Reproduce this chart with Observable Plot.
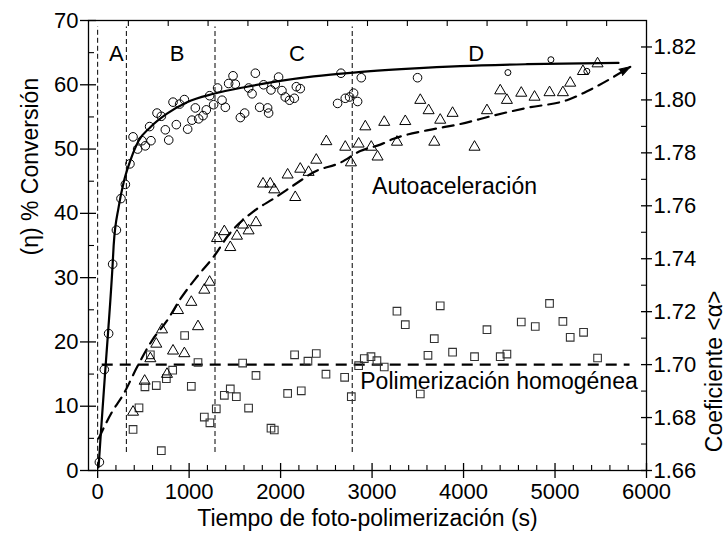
<!DOCTYPE html>
<html>
<head>
<meta charset="utf-8">
<script src="https://cdn.jsdelivr.net/npm/d3@7"></script>
<script src="https://cdn.jsdelivr.net/npm/@observablehq/plot@0.6"></script>
<style>
  html, body { margin: 0; padding: 0; background: #fff; }
  #chart { width: 726px; height: 541px; }
</style>
</head>
<body>
<div id="chart"></div>
<script>
// ---- Data ----
// Conversion (η, %) – open circles, left axis
const convTime = [19,73,120,164,205,255,303,353,387,437,485,521,568,583,649,696,740,777,824,860,896,948,984,1031,1068,1104,1152,1188,1224,1268,1311,1360,1396,1432,1480,1505,1560,1607,1651,1688,1724,1771,1814,1858,1869,1895,1942,1978,2015,2051,2098,2150,2172,2215,2623,2660,2707,2754,2798,2842,2882,3497];
const convValue = [1.3,15.7,21.3,32.1,37.4,42.3,44.5,47.7,51.9,50.0,51.3,50.5,53.5,51.3,55.6,55.1,53.0,51.4,57.3,53.8,57.0,57.7,53.1,54.5,56.4,54.7,55.2,56.1,58.3,56.9,59.5,57.6,56.5,60.2,61.4,60.1,54.9,55.6,59.5,58.6,61.8,56.5,60.0,56.4,55.6,59.2,60.1,61.2,59.1,58.1,57.6,57.9,59.7,59.4,57.1,61.8,57.9,58.1,58.7,57.4,61.1,61.1];
// late conversion points (drawn smaller)
const convLateTime = [4485, 4955, 5348];
const convLateValue = [61.9, 63.9, 62.1];

// Fitted conversion curve (solid)
const fitTime = [10,37,84,113,164,175,230,284,357,448,576,758,977,1268,1633,1997,2361,2798,3418,3964,4694,5694];
const fitValue = [0.5,6.2,15.7,21.3,32.1,35.0,41.0,44.8,48.2,51.3,53.4,55.5,57.3,58.6,59.7,60.6,61.3,61.9,62.5,62.9,63.2,63.4];

// Coefficient <α> – autoacceleration (triangles), right axis
const autoTime = [387,514,576,641,704,758,824,879,948,1024,1097,1166,1224,1305,1385,1450,1523,1589,1650,1731,1808,1887,1931,2077,2160,2215,2306,2390,2500,2707,2769,2853,2926,2991,3060,3133,3272,3363,3527,3618,3680,3745,3880,4120,4256,4401,4474,4631,4776,4940,5086,5166,5305,5465];
const autoAlpha = [1.6821,1.6938,1.7023,1.7078,1.7132,1.6964,1.7052,1.7205,1.7042,1.7236,1.7144,1.7282,1.7312,1.7477,1.7503,1.7443,1.7486,1.7528,1.7506,1.7537,1.7683,1.7683,1.7661,1.7717,1.7632,1.7739,1.7727,1.7773,1.7843,1.7822,1.7763,1.7834,1.7899,1.7822,1.7785,1.7916,1.7841,1.7919,1.7999,1.7960,1.7841,1.7924,1.7950,1.7822,1.7960,1.8035,1.7999,1.8026,1.8011,1.8028,1.8028,1.8064,1.8108,1.8137];

// Autoacceleration trend (dashed, with arrow)
const autoTrendTime = [11,157,284,431,594,758,904,1068,1286,1414,1705,1924,2179,2361,2653,2871,3090,3235,3600,3964,4328,4693,5130,5421,5822];
const autoTrendAlpha = [1.6721,1.6821,1.6889,1.6991,1.7091,1.7166,1.7248,1.7324,1.7416,1.7482,1.7579,1.7627,1.7686,1.7727,1.7763,1.7807,1.7831,1.7853,1.7885,1.7909,1.7941,1.7970,1.7999,1.8045,1.8125];

// Coefficient <α> – homogeneous polymerization (squares), right axis
const homTime = [387,452,517,576,641,696,751,820,951,1024,1097,1166,1227,1297,1385,1450,1516,1585,1650,1731,1895,1931,2077,2153,2226,2299,2390,2496,2700,2773,2853,2915,2988,3053,3133,3272,3363,3527,3611,3680,3745,3880,4120,4256,4401,4474,4631,4784,4940,5086,5166,5312,5465];
const homAlpha = [1.6755,1.6837,1.6916,1.7037,1.6921,1.6675,1.6947,1.6979,1.7110,1.6918,1.7008,1.6802,1.6780,1.6833,1.6884,1.6908,1.6879,1.7006,1.6836,1.6959,1.6760,1.6753,1.6891,1.7037,1.6901,1.7013,1.7042,1.6964,1.6952,1.6879,1.6996,1.7023,1.7030,1.7015,1.6991,1.7202,1.7151,1.6889,1.7035,1.7098,1.7222,1.7047,1.7030,1.7132,1.7030,1.7040,1.7161,1.7144,1.7231,1.7163,1.7103,1.7122,1.7025];
const homLevel = 1.70;
const homLineRange = [50, 5820];

// Region boundaries and labels
const regionBounds = [0, 314, 1283, 2783];
const regionNames = ["A", "B", "C", "D"];
const regionLabelTime = [205, 868, 2179, 4139];

// Ticks
const xMajor = [0, 1000, 2000, 3000, 4000, 5000, 6000];
const xMinor = d3.range(200, 6000, 200).filter(v => v % 1000 !== 0);
const topTicks = d3.range(1, 14).map(k => -100 + k * 6100 / 14);
const yMajor = [0, 10, 20, 30, 40, 50, 60, 70];
const yMinor = [5, 15, 25, 35, 45, 55, 65];
const alphaMajor = [1.66, 1.68, 1.70, 1.72, 1.74, 1.76, 1.78, 1.80, 1.82];
const alphaMinor = [1.67, 1.69, 1.71, 1.73, 1.75, 1.77, 1.79, 1.81];

// ---- Scales / helpers ----
const X0 = -100, X1 = 6000, Y0 = 0, Y1 = 70;
const A0 = 1.66, A1 = 1.83;
const toLeft = a => (a - A0) / (A1 - A0) * (Y1 - Y0);
const toAlpha = v => A0 + v * (A1 - A0) / (Y1 - Y0);
const W = 726, H = 541, mL = 88, mR = 80, mT = 20, mB = 71;
const pxX = (X1 - X0) / (W - mL - mR);
const pxY = (Y1 - Y0) / (H - mT - mB);

const conv = convTime.map((t, i) => ({t, v: convValue[i]}));
const convLate = convLateTime.map((t, i) => ({t, v: convLateValue[i]}));
const fit = fitTime.map((t, i) => ({t, v: fitValue[i]}));
const auto = autoTime.map((t, i) => ({t, v: toLeft(autoAlpha[i])}));
const trend = autoTrendTime.map((t, i) => ({t, v: toLeft(autoTrendAlpha[i])}));
const hom = homTime.map((t, i) => ({t, v: toLeft(homAlpha[i])}));
const regions = regionNames.map((n, i) => ({n, t: regionLabelTime[i]}));
const last = trend[trend.length - 1];

const font = "'Liberation Sans', Arial, sans-serif";

const chart = Plot.plot({
  width: W, height: H,
  marginLeft: mL, marginRight: mR, marginTop: mT, marginBottom: mB,
  x: {domain: [X0, X1]},
  y: {domain: [Y0, Y1]},
  style: {fontFamily: font, fontSize: "22px", color: "black", background: "white"},
  marks: [
    // region boundaries
    Plot.ruleX(regionBounds, {x: d => d, y1: d => d === 0 ? 0.5 : 2.8, y2: 69, stroke: "black", strokeWidth: 1, strokeDasharray: "5,3"}),
    // homogeneous level
    Plot.ruleY([homLevel], {y: d => toLeft(d), x1: homLineRange[0], x2: homLineRange[1], stroke: "black", strokeWidth: 2.2, strokeDasharray: "11,7"}),
    // fits
    Plot.line(fit, {x: "t", y: "v", curve: "monotone-x", stroke: "black", strokeWidth: 2.2}),
    Plot.line(trend, {x: "t", y: "v", curve: "monotone-x", stroke: "black", strokeWidth: 2.2, strokeDasharray: "11,7"}),
    Plot.vector([last], {x: "t", y: "v", length: 11, rotate: 60, shape: "spike", anchor: "end", r: 3.5, fill: "black", stroke: "black", strokeWidth: 1}),
    // data
    Plot.dot(hom, {x: "t", y: "v", symbol: "square", r: 4.3, fill: "none", stroke: "#333", strokeWidth: 1.1}),
    Plot.dot(auto, {x: "t", y: "v", symbol: "triangle", r: 4.1, fill: "none", stroke: "black", strokeWidth: 1}),
    Plot.dot(conv, {x: "t", y: "v", symbol: "circle", r: 4.3, fill: "none", stroke: "black", strokeWidth: 1}),
    Plot.dot(convLate, {x: "t", y: "v", symbol: "circle", r: 3, fill: "none", stroke: "black", strokeWidth: 1}),
    // region labels
    Plot.text(regions, {x: "t", y: 64.8, text: "n", fontSize: 22}),
    // annotations
    Plot.text(["Autoaceleración"], {x: 3000, y: 44.2, text: d => d, textAnchor: "start", fontSize: 23}),
    Plot.text(["Polimerización homogénea"], {x: 2871, y: 13.9, text: d => d, textAnchor: "start", fontSize: 23}),
    // frame
    Plot.frame({stroke: "black", strokeWidth: 1.3}),
    // inward ticks
    Plot.ruleX(xMajor, {x: d => d, y1: 0, y2: 7 * pxY, stroke: "black", strokeWidth: 1.3}),
    Plot.ruleX(xMinor, {x: d => d, y1: 0, y2: 5 * pxY, stroke: "black", strokeWidth: 1.1}),
    Plot.ruleX(topTicks, {x: d => d, y1: Y1, y2: Y1 - 6 * pxY, stroke: "black", strokeWidth: 1.1}),
    Plot.ruleY(yMajor, {y: d => d, x1: X0, x2: X0 + 8 * pxX, stroke: "black", strokeWidth: 1.3}),
    Plot.ruleY(yMinor, {y: d => d, x1: X0, x2: X0 + 6 * pxX, stroke: "black", strokeWidth: 1.1}),
    Plot.ruleY(alphaMajor, {y: d => toLeft(d), x1: X1, x2: X1 - 5 * pxX, stroke: "black", strokeWidth: 1.3}),
    Plot.ruleY(alphaMinor, {y: d => toLeft(d), x1: X1, x2: X1 - 5 * pxX, stroke: "black", strokeWidth: 1.1}),
    // axes (outward ticks + labels)
    Plot.axisX(xMajor, {anchor: "bottom", tickSize: 8, tickPadding: 5, strokeWidth: 1.3, fontSize: 22, label: null, tickFormat: d => String(d)}),
    Plot.axisY(yMajor, {anchor: "left", tickSize: 8, tickPadding: 2, strokeWidth: 1.3, fontSize: 22, label: null, tickFormat: d => String(d)}),
    Plot.axisY(alphaMajor.map(toLeft), {anchor: "right", tickSize: 5, tickPadding: 2, strokeWidth: 1.3, fontSize: 22, label: null, tickFormat: v => toAlpha(v).toFixed(2)}),
    // axis titles
    Plot.text(["Tiempo de foto-polimerización (s)"], {frameAnchor: "bottom", dy: 55, text: d => d, fontSize: 23}),
    Plot.text(["(η) % Conversión"], {frameAnchor: "left", dx: -58, dy: 10, rotate: -90, text: d => d, fontSize: 23}),
    Plot.text(["Coeficiente <α>"], {frameAnchor: "right", dx: 68, dy: 45, rotate: -90, text: d => d, fontSize: 23})
  ]
});
document.getElementById("chart").appendChild(chart);
</script>
</body>
</html>
